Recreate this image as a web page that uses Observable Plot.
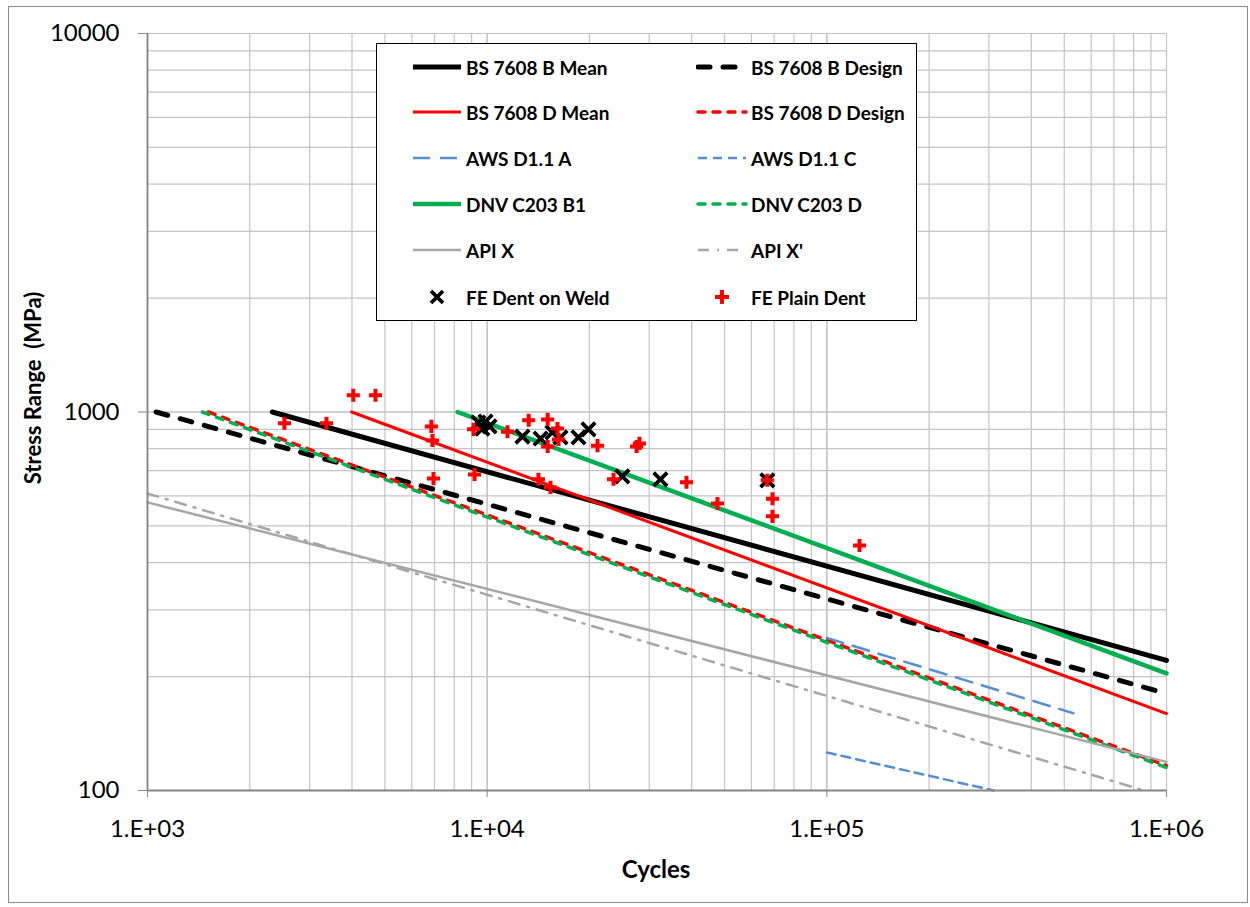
<!DOCTYPE html>
<html><head><meta charset="utf-8">
<script src="https://cdn.jsdelivr.net/npm/d3@7"></script>
<script src="https://cdn.jsdelivr.net/npm/@observablehq/plot@0.6"></script>
<style>
body{margin:0;background:#fff;font-family:Lato,"Open Sans",sans-serif;}
#wrap{position:relative;width:1250px;height:907px;overflow:hidden;}
#frame{position:absolute;left:8px;top:6px;width:1238px;height:895px;border:1px solid #8c8c8c;pointer-events:none;}
#ytitle{position:absolute;left:32px;top:388px;transform:translate(-50%,-50%) rotate(-90deg);font-weight:bold;font-size:22px;white-space:nowrap;}
#xtitle{position:absolute;left:656px;top:868px;transform:translate(-50%,-50%);font-weight:bold;font-size:24px;}
#legend{position:absolute;left:376px;top:43px;width:541px;height:278px;border:1.5px solid #000;background:#fff;box-sizing:border-box;}
.item{position:absolute;display:flex;align-items:center;font-weight:bold;font-size:19px;height:24px;white-space:nowrap;}
.item svg{display:block;margin-right:3px;}
</style></head>
<body>
<div id="wrap">
  <div id="chart"></div>
  <div id="frame"></div>
  <div id="ytitle">Stress Range&nbsp; (MPa)</div>
  <div id="xtitle">Cycles</div>
  <div id="legend"></div>
</div>
<script>
// ---- data (cycles N, stress range S in MPa) ----
const bs7608BMean   = [[2330, 1000], [1000000, 220.6]];
const bs7608BDesign = [[1060, 1000], [1000000, 180.4]];
const bs7608DMean   = [[3990, 1000], [1000000, 159.7]];
const bs7608DDesign = [[1510, 1000], [1000000, 116.4]];
const awsA          = [[100000, 253], [532000, 160]];
const awsC          = [[100000, 126], [310000, 100]];
const dnvB1         = [[8180, 1000], [1000000, 204]];
const dnvD          = [[1450, 1000], [1000000, 115]];
const apiX          = [[1000, 577], [1000000, 119]];
const apiXp         = [[1000, 609], [860000, 100]];

const weldN  = [9420, 9890, 10160, 9680, 12700, 14360, 15560, 16440, 18570, 19870, 25000, 32360, 66800];
const weldS  = [938, 944, 916, 904, 861, 851, 883, 857, 857, 900, 676, 664, 660];
const plainN = [4035, 4690, 2530, 3365, 6850, 6900, 6950, 9180, 9120, 11480, 13250, 15070, 16110, 16220, 15070, 21130, 27540, 28080, 23550, 14160, 15360, 38620, 47640, 66800, 69180, 69180, 124800];
const plainS = [1107, 1107, 934, 934, 916, 841, 667, 684, 900, 887, 951, 956, 904, 846, 811, 815, 811, 826, 664, 664, 632, 652, 573, 660, 590, 530, 444];

const xTicks = [1000, 10000, 100000, 1000000];
const yTicks = [100, 1000, 10000];

const curveNames = ["BS 7608 B Mean", "BS 7608 B Design", "BS 7608 D Mean", "BS 7608 D Design",
  "AWS D1.1 A", "AWS D1.1 C", "DNV C203 B1", "DNV C203 D", "API X", "API X'"];
const curveData = [bs7608BMean, bs7608BDesign, bs7608DMean, bs7608DDesign, awsA, awsC, dnvB1, dnvD, apiX, apiXp];

// ---- styles ----
const curveStyle = {
  "BS 7608 B Mean":   {stroke: "#000000", strokeWidth: 5},
  "BS 7608 B Design": {stroke: "#000000", strokeWidth: 5, strokeDasharray: "12,13", strokeLinecap: "round"},
  "BS 7608 D Mean":   {stroke: "#ff0000", strokeWidth: 3},
  "BS 7608 D Design": {stroke: "#ff0000", strokeWidth: 3.5, strokeDasharray: "7,8", strokeLinecap: "round"},
  "AWS D1.1 A":       {stroke: "#558ed5", strokeWidth: 2.5, strokeDasharray: "17,10"},
  "AWS D1.1 C":       {stroke: "#558ed5", strokeWidth: 2.5, strokeDasharray: "9,6"},
  "DNV C203 B1":      {stroke: "#00b050", strokeWidth: 4.5},
  "DNV C203 D":       {stroke: "#00b050", strokeWidth: 3.5, strokeDasharray: "7,8", strokeLinecap: "round"},
  "API X":            {stroke: "#a6a6a6", strokeWidth: 2.5},
  "API X'":           {stroke: "#a6a6a6", strokeWidth: 2.5, strokeDasharray: "11,8,2,8"}
};

const gridX = [];
for (const d of [1000, 10000, 100000]) for (let k = 1; k <= 10; k++) gridX.push(d * k);
const gridY = [];
for (const d of [100, 1000]) for (let k = 1; k <= 10; k++) gridY.push(d * k);

const lineMarks = curveNames.map((name, i) => {
  const rows = curveData[i].map(([N, S]) => ({N, S}));
  return Plot.line(rows, {x: "N", y: "S", ...curveStyle[name]});
});

const weld = weldN.map((N, i) => ({N, S: weldS[i]}));
const plain = plainN.map((N, i) => ({N, S: plainS[i]}));

const chart = Plot.plot({
  width: 1250, height: 907,
  marginLeft: 147, marginRight: 84, marginTop: 33, marginBottom: 117,
  x: {type: "log", domain: [1000, 1000000]},
  y: {type: "log", domain: [100, 10000]},
  style: {fontFamily: "Lato, 'Open Sans', sans-serif", fontSize: "24px", background: "white", color: "black"},
  marks: [
    Plot.gridX({ticks: gridX, stroke: "#c4c4c4", strokeOpacity: 1, strokeWidth: 1.2}),
    Plot.gridY({ticks: gridY, stroke: "#c4c4c4", strokeOpacity: 1, strokeWidth: 1.2}),
    Plot.axisY({ticks: yTicks, tickSize: 9, tickPadding: 19, tickFormat: d => String(d), stroke: "#868686", fill: "#000", fontSize: 24, label: null}),
    Plot.axisX({ticks: xTicks, tickSize: 7, tickPadding: 22, tickFormat: d => "1.E+0" + Math.round(Math.log10(d)), stroke: "#868686", fill: "#000", fontSize: 24, label: null}),
    ...lineMarks,
    Plot.ruleX([1000], {stroke: "#868686", strokeWidth: 1.8}),
    Plot.ruleY([100], {stroke: "#868686", strokeWidth: 1.8}),
    Plot.dot(weld, {x: "N", y: "S", symbol: "times", r: 6.2, stroke: "#000", strokeWidth: 3.8}),
    Plot.dot(plain, {x: "N", y: "S", symbol: "plus", r: 4.3, stroke: "#ff0000", strokeWidth: 4})
  ]
});
document.getElementById("chart").appendChild(chart);

// ---- legend ----
const legendRows = [
  ["BS 7608 B Mean", "BS 7608 B Design"],
  ["BS 7608 D Mean", "BS 7608 D Design"],
  ["AWS D1.1 A", "AWS D1.1 C"],
  ["DNV C203 B1", "DNV C203 D"],
  ["API X", "API X'"],
  ["FE Dent on Weld", "FE Plain Dent"]
];
const legend = document.getElementById("legend");
const rowTop = [11, 56, 102, 148, 194, 241];
const colLeft = [34, 319];
legendRows.forEach((pair, r) => {
  pair.forEach((name, c) => {
    const div = document.createElement("div");
    div.className = "item";
    div.style.left = colLeft[c] + "px";
    div.style.top = rowTop[r] + "px";
    const ns = "http://www.w3.org/2000/svg";
    const svg = document.createElementNS(ns, "svg");
    svg.setAttribute("width", 52); svg.setAttribute("height", 24);
    const st = curveStyle[name];
    if (st) {
      const ln = document.createElementNS(ns, "line");
      ln.setAttribute("x1", 2); ln.setAttribute("x2", 50);
      ln.setAttribute("y1", 12); ln.setAttribute("y2", 12);
      ln.setAttribute("stroke", st.stroke);
      ln.setAttribute("stroke-width", st.strokeWidth);
      if (st.strokeDasharray) ln.setAttribute("stroke-dasharray", st.strokeDasharray);
      if (st.strokeLinecap) ln.setAttribute("stroke-linecap", st.strokeLinecap);
      svg.appendChild(ln);
    } else {
      const p = document.createElementNS(ns, "path");
      if (name === "FE Dent on Weld") {
        p.setAttribute("d", "M20,6L32,18M32,6L20,18");
        p.setAttribute("stroke", "#000"); p.setAttribute("stroke-width", 3.8);
      } else {
        p.setAttribute("d", "M19,12H33M26,5V19");
        p.setAttribute("stroke", "#ff0000"); p.setAttribute("stroke-width", 4);
      }
      p.setAttribute("fill", "none");
      svg.appendChild(p);
    }
    div.appendChild(svg);
    const span = document.createElement("span");
    span.textContent = name;
    div.appendChild(span);
    legend.appendChild(div);
  });
});
</script>
</body></html>
